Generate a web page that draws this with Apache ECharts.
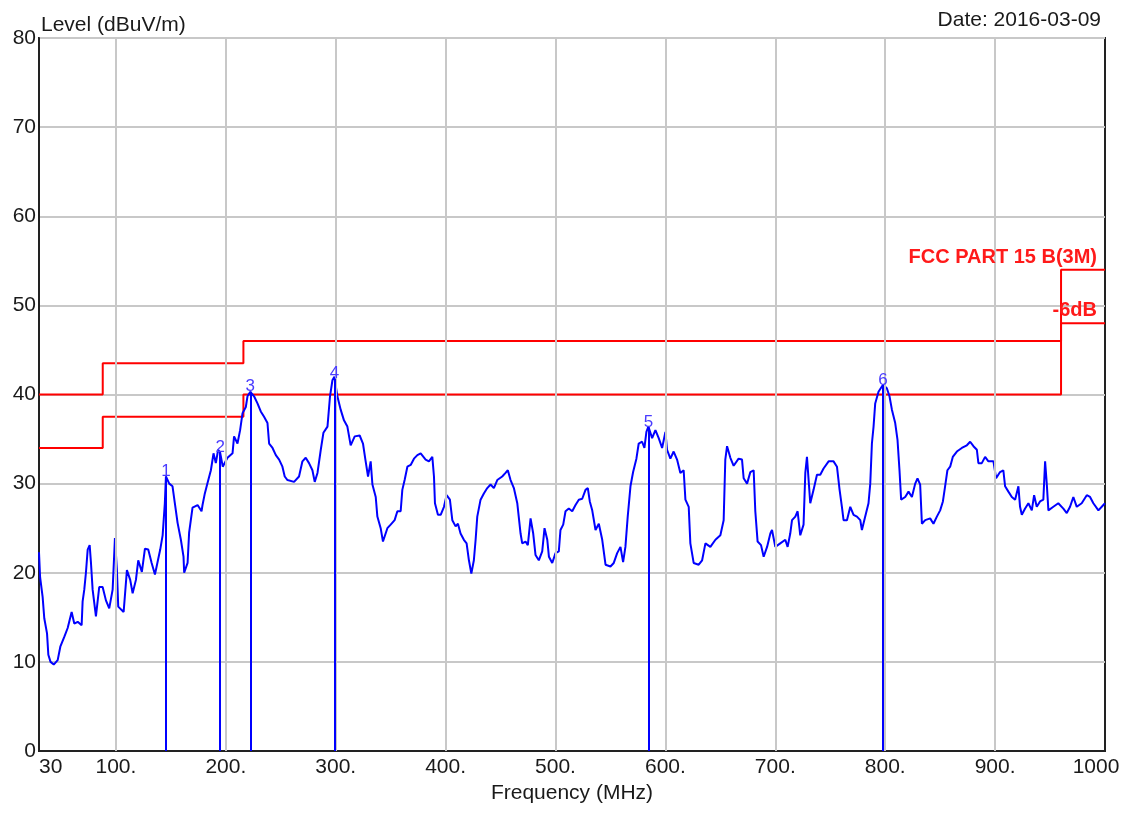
<!DOCTYPE html>
<html>
<head>
<meta charset="utf-8">
<title>Radiated emission scan</title>
<script src="https://cdn.jsdelivr.net/npm/echarts@6/dist/echarts.min.js"></script>
<style>
    html, body { margin: 0; padding: 0; background: #fff; }
    #container { width: 1133px; height: 813px; }
</style>
</head>
<body>
<div id="container"></div>
<script>
// scan trace: frequency (MHz)
var traceFreq = [30, 31, 33.3, 34.8, 37.3, 38.5, 40.5, 43.4, 47, 49.4, 53, 56.1, 59.7, 62.1, 65.2, 68.8, 69.7, 71.2, 72.7, 74.3,
    76.1, 77.3, 78.8, 81.8, 84.8, 87.9, 90.9, 93.9, 97, 99.1, 100.9, 102.1, 107, 110, 113, 115.2, 118.2, 120.3, 123.6, 126.4,
    129.4, 132.5, 135.5, 137.9, 140.3, 142.5, 144.5, 145.5, 148.5, 151.5, 153.6, 156.1, 159.1, 161.5, 162.1, 165.2, 166.6, 169.7, 174.3, 177.9,
    178.8, 180.9, 183.4, 186.4, 188.8, 190.9, 193, 194.8, 197.2, 201.5, 206.1, 207.5, 210.6, 213, 215.2, 218.2, 219.7, 222.3, 225.7, 228.8,
    231.8, 234.8, 237.9, 239.4, 242.5, 245.5, 248.5, 251.5, 253.6, 256.1, 262.1, 266.6, 269.7, 272.7, 275.7, 278.8, 280.9, 283.4, 286.4, 288.8,
    292.5, 294.8, 297, 298.8, 301.5, 304.5, 307.5, 310.6, 313.6, 317.3, 321.8, 324.8, 327, 329.4, 331.8, 333.4, 336.4, 337.9, 340.9, 343,
    347, 350, 353.6, 356.1, 359.1, 360.6, 362.7, 365.2, 368.2, 371.2, 374.3, 377.3, 381.8, 384.8, 387.9, 389.4, 390.3, 393, 395.5, 398.5,
    400.9, 403.9, 406.1, 409.1, 411.2, 413.6, 416.6, 419.1, 421.2, 423.4, 425.7, 427.3, 428.8, 431.8, 434.8, 437.9, 440.9, 443.9, 447, 451.5,
    454.5, 456.6, 459.1, 462.1, 465.2, 468.2, 469.7, 472.7, 474.8, 477.3, 479.7, 481.8, 484.8, 487.9, 490, 492.5, 494, 497, 500, 503,
    504.5, 507, 509.1, 512.1, 515.2, 518.2, 521.2, 524.3, 527.3, 529.4, 531.2, 533.4, 536.4, 539.4, 542.5, 545.5, 550, 553, 556.1, 559.1,
    561.5, 563.6, 565.7, 568.2, 570.6, 573.6, 575.7, 578.8, 580.9, 582.7, 584.5, 587.9, 590.9, 593.9, 597, 600, 601.5, 604.5, 607.5, 610.6,
    613.6, 616.6, 618.2, 621.2, 622.7, 625.7, 630.3, 633.4, 636.4, 640.9, 645.5, 650, 653, 654.5, 656.1, 659.1, 662.1, 666.6, 669.7, 671.2,
    674.3, 677.3, 680.3, 681.8, 683.9, 687, 689.4, 692.5, 695.5, 697, 700, 704.5, 709.1, 711.2, 713.6, 715.2, 718.2, 720.3, 722.7, 725.7,
    727.3, 728.8, 731.8, 734.8, 737.9, 740.9, 743.9, 748.5, 753, 756.1, 758.5, 760.6, 762.1, 765.2, 768.2, 771.2, 774.3, 777.3, 778.8, 781.8,
    784.8, 786.4, 787.9, 789.4, 790.9, 793.9, 798, 801.5, 803.9, 806.1, 809.1, 811.2, 813, 814.5, 818.2, 821.2, 824.3, 827.3, 829.4, 831.8,
    833.4, 836.4, 840.9, 843.9, 847, 850, 852.5, 854.5, 856.6, 859.1, 861.5, 865.2, 869.7, 874.3, 877.3, 880.3, 883.4, 884.8, 887.9, 890.9,
    893.9, 898.5, 900.9, 904.5, 907.5, 909.1, 912.1, 915.2, 918.2, 921.2, 922.7, 924.3, 927.3, 930.3, 933.4, 935.5, 937.9, 940.9, 943.9, 945.5,
    947, 948.5, 953, 957.5, 962.1, 965.2, 968.2, 971.2, 974.3, 978.8, 983.4, 986.4, 989.4, 994, 998.5, 1000];
// scan trace: level (dBuV/m)
var traceLevel = [22.3, 19.5, 17.3, 14.9, 13.2, 10.8, 10.0, 9.7, 10.2, 11.7, 12.8, 13.8, 15.6, 14.3, 14.5, 14.1, 16.8, 18.1, 20, 22.6,
    23.1, 21.1, 18.1, 15.1, 18.4, 18.4, 16.9, 16.0, 18.1, 23.9, 20.3, 16.2, 15.6, 20.3, 19.2, 17.7, 19.2, 21.4, 20.1, 22.7,
    22.6, 21.1, 19.8, 21.2, 22.6, 24.2, 27.8, 30.8, 30, 29.7, 27.8, 25.6, 23.7, 21.8, 20, 21.1, 24.5, 27.3, 27.6, 26.9,
    27.6, 28.9, 30.1, 31.5, 33.4, 32.3, 33.8, 33.5, 31.9, 32.9, 33.4, 35.3, 34.5, 36, 37.9, 38.6, 39.8, 40.3, 39.8, 39,
    38.1, 37.5, 36.8, 34.5, 34, 33.2, 32.7, 31.9, 30.8, 30.4, 30.2, 30.8, 32.5, 32.9, 32.3, 31.5, 30.2, 31.2, 33.8, 35.7,
    36.4, 39.8, 41.6, 42, 39.8, 38.3, 37.1, 36.4, 34.3, 35.3, 35.4, 34.5, 32.7, 30.8, 32.5, 29.9, 28.5, 26.3, 25, 23.5,
    25, 25.4, 25.9, 26.9, 26.9, 29.3, 30.4, 31.9, 32.1, 32.8, 33.2, 33.4, 32.7, 32.5, 33, 30.8, 27.8, 26.5, 26.5, 27.4,
    28.7, 28.2, 25.9, 25.2, 25.5, 24.4, 23.7, 23.3, 21.4, 19.9, 21.4, 23.7, 26.3, 28.2, 28.9, 29.5, 29.9, 29.5, 30.4, 30.8,
    31.2, 31.5, 30.4, 29.5, 27.8, 24.4, 23.3, 23.5, 23.1, 26.1, 24.4, 22, 21.4, 22.4, 25, 23.7, 21.8, 21.1, 22.2, 22.4,
    24.8, 25.4, 26.9, 27.2, 26.9, 27.6, 28.2, 28.3, 29.3, 29.5, 28, 27, 24.8, 25.5, 23.7, 20.9, 20.7, 21.1, 22.2, 22.9,
    21.2, 22.9, 26.3, 29.7, 31.3, 32.8, 34.5, 34.7, 34, 35.8, 36.4, 35.1, 36, 35.1, 34, 35.8, 33.8, 32.8, 33.6, 32.7,
    31.2, 31.5, 28.2, 27.4, 23.3, 21.1, 20.9, 21.4, 23.3, 22.9, 23.7, 24.2, 25.9, 32.7, 34.2, 32.9, 32, 32.8, 32.7, 30.6,
    30, 31.3, 31.5, 26.9, 23.5, 23.1, 21.8, 22.9, 24.4, 24.8, 22.9, 23.3, 23.7, 22.9, 24.4, 25.9, 26.3, 26.9, 24.2, 25.4,
    31.2, 33, 27.8, 29.3, 31, 31, 31.7, 32.5, 32.5, 31.9, 29.3, 27.4, 25.9, 25.9, 27.4, 26.5, 26.3, 25.9, 24.8, 26.3,
    27.8, 30, 34.5, 36.4, 39, 40.3, 41.1, 40.7, 39.8, 38.3, 36.8, 34.9, 31.5, 28.2, 28.5, 29.1, 28.5, 30, 30.6, 29.9,
    25.5, 25.9, 26.1, 25.5, 26.3, 27, 28, 29.7, 31.5, 31.9, 33, 33.6, 34, 34.3, 34.7, 34.2, 33.8, 32.3, 32.3, 33,
    32.5, 32.5, 30.6, 31.3, 31.5, 29.7, 29.1, 28.5, 28.2, 29.7, 27.4, 26.5, 27.2, 27.8, 27, 28.7, 27.4, 28, 28.2, 32.5,
    30, 27, 27.4, 27.8, 27.2, 26.7, 27.4, 28.5, 27.4, 27.8, 28.7, 28.5, 27.8, 27, 27.6, 27.8];

// FCC part 15 class B (3m) limit and the -6dB line, stepped
var limitFreq = [30, 88, 216, 960, 1000];
var limitLevel = [40, 43.5, 46, 54, 54];
var marginLevel = [34, 37.5, 40, 48, 48];

// peak markers
var markerNo = ['1', '2', '3', '4', '5', '6'];
var markerFreq = [145.5, 194.8, 222.3, 298.8, 584.5, 798];
var markerLevel = [30.8, 33.5, 40.3, 41.8, 36.3, 41.0];

// vertical grid lines on the frequency axis
var gridFreq = [100, 200, 300, 400, 500, 600, 700, 800, 900];

var FONT = "'Liberation Sans', Arial, sans-serif";

function zip(xs, ys) {
    var out = [];
    for (var i = 0; i < xs.length; i++) {
        out.push([xs[i], ys[i]]);
    }
    return out;
}

// text label sitting on top of the right end of a limit line
function limitLabel(levels, text) {
    var last = limitFreq.length - 1;
    return {
        silent: true,
        symbol: 'circle',
        symbolSize: 1,
        itemStyle: { color: 'rgba(0,0,0,0)' },
        label: {
            show: true,
            formatter: text,
            position: 'top',
            align: 'right',
            distance: 2,
            offset: [-8, 0],
            color: '#ff1a1a',
            fontSize: 20,
            fontWeight: 'bold',
            fontFamily: FONT
        },
        data: [{ coord: [limitFreq[last], levels[last]] }]
    };
}

var markerLines = [];
for (var i = 0; i < markerNo.length; i++) {
    markerLines.push([
        { coord: [markerFreq[i], 0], name: markerNo[i] },
        { coord: [markerFreq[i], markerLevel[i]] }
    ]);
}

var dom = document.getElementById('container');
var myChart = echarts.init(dom);
var option = {
    animation: false,
    backgroundColor: '#fff',
    title: [
        {
            text: 'Level (dBuV/m)',
            left: 36,
            top: 10,
            textStyle: { fontSize: 21, fontWeight: 'normal', color: '#1a1a1a', fontFamily: FONT }
        },
        {
            text: 'Date: 2016-03-09',
            right: 27,
            top: 5,
            textStyle: { fontSize: 21, fontWeight: 'normal', color: '#1a1a1a', fontFamily: FONT }
        }
    ],
    grid: {
        left: 39,
        right: 28,
        top: 38,
        bottom: 62,
        show: true,
        borderColor: '#222',
        borderWidth: 2,
        containLabel: false
    },
    xAxis: {
        type: 'value',
        min: 30,
        max: 1000,
        interval: 10,
        name: 'Frequency (MHz)',
        nameLocation: 'middle',
        nameGap: 32,
        nameTextStyle: { fontSize: 21, color: '#1a1a1a', fontFamily: FONT },
        axisLine: { lineStyle: { color: '#222', width: 2 } },
        axisTick: { show: false },
        splitLine: { show: false },
        axisLabel: {
            margin: 6,
            fontSize: 21,
            color: '#1a1a1a',
            fontFamily: FONT,
            alignMinLabel: 'left',
            formatter: function (v) {
                v = Math.round(v);
                if (v === 30) return '30';
                if (v === 1000) return '{r|1000}';
                if (v % 100 === 0) return v + '.';
                return '';
            },
            rich: {
                r: { fontSize: 21, color: '#1a1a1a', fontFamily: FONT, padding: [0, 18, 0, 0] }
            }
        }
    },
    yAxis: {
        type: 'value',
        min: 0,
        max: 80,
        interval: 10,
        axisLine: { show: true, lineStyle: { color: '#222', width: 2 } },
        axisTick: { show: false },
        axisLabel: { margin: 3, fontSize: 21, color: '#1a1a1a', fontFamily: FONT },
        splitLine: { lineStyle: { color: '#c8c8c8', width: 2 } }
    },
    series: [
        {
            // only carries the vertical grid lines
            name: 'grid',
            type: 'line',
            z: 1,
            silent: true,
            symbol: 'none',
            data: [[30, 0]],
            markLine: {
                silent: true,
                symbol: ['none', 'none'],
                label: { show: false },
                lineStyle: { color: '#c8c8c8', width: 2, type: 'solid' },
                emphasis: { disabled: true },
                data: gridFreq.map(function (f) { return { xAxis: f }; })
            }
        },
        {
            name: 'FCC PART 15 B(3M)',
            type: 'line',
            z: 2,
            step: 'end',
            symbol: 'none',
            lineStyle: { color: '#ff0000', width: 2 },
            itemStyle: { color: '#ff0000' },
            data: zip(limitFreq, limitLevel),
            markPoint: limitLabel(limitLevel, 'FCC PART 15 B(3M)')
        },
        {
            name: '-6dB',
            type: 'line',
            z: 2,
            step: 'end',
            symbol: 'none',
            lineStyle: { color: '#ff0000', width: 2 },
            itemStyle: { color: '#ff0000' },
            data: zip(limitFreq, marginLevel),
            markPoint: limitLabel(marginLevel, '-6dB')
        },
        {
            name: 'Level',
            type: 'line',
            z: 3,
            symbol: 'none',
            lineStyle: { color: '#0000ff', width: 2 },
            itemStyle: { color: '#0000ff' },
            data: zip(traceFreq, traceLevel),
            markLine: {
                silent: true,
                symbol: ['none', 'none'],
                lineStyle: { color: '#0000ff', width: 2, type: 'solid' },
                emphasis: { disabled: true },
                label: {
                    show: true,
                    position: 'end',
                    distance: -3,
                    color: '#4a3cff',
                    fontSize: 17,
                    fontFamily: FONT,
                    formatter: function (p) { return p.name; }
                },
                data: markerLines
            }
        }
    ]
};
myChart.setOption(option, true);
</script>
</body>
</html>
